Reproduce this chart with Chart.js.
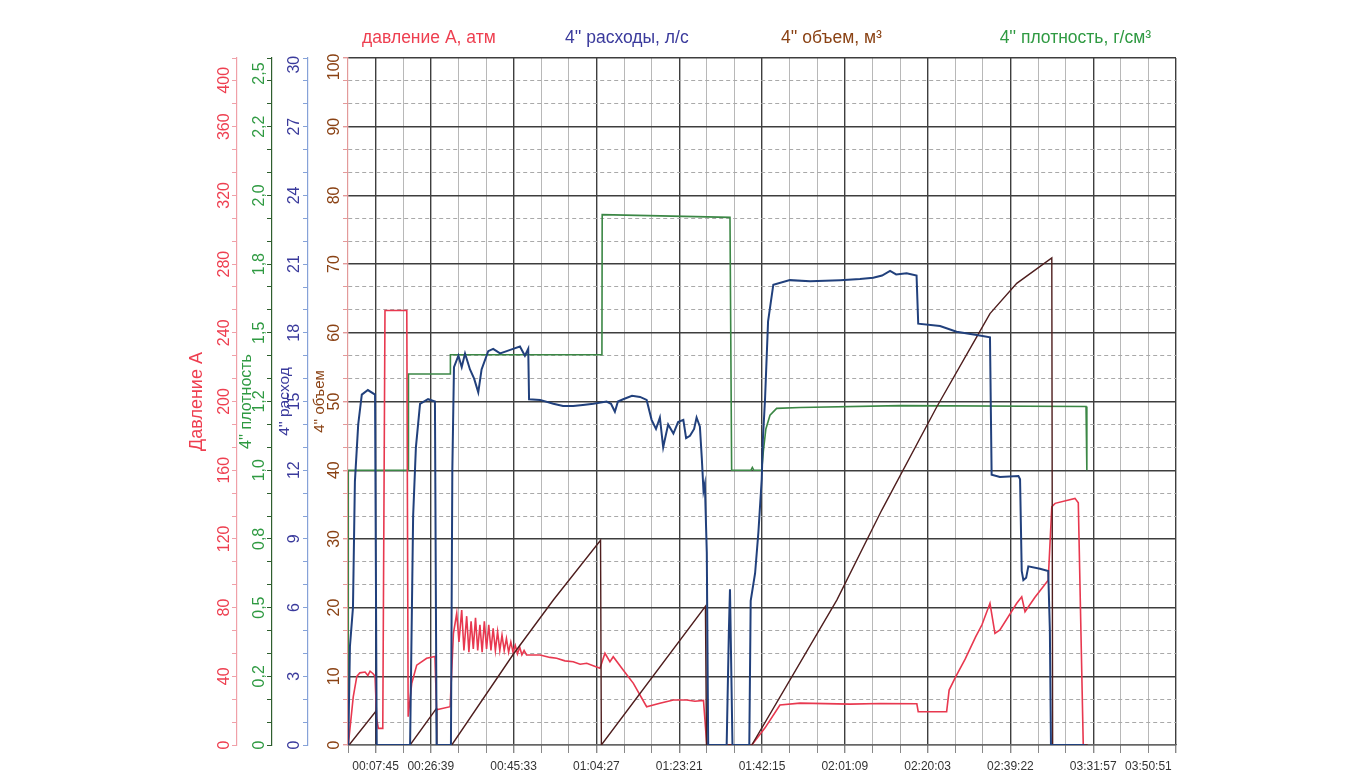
<!DOCTYPE html>
<html lang="ru">
<head>
  <meta charset="UTF-8" />
  <title>Давление, расход, объем, плотность</title>
  <script src="https://cdn.jsdelivr.net/npm/chart.js"></script>
  <style>
    body { margin: 0; background: #fff; }
    #wrap { width: 1348px; height: 782px; }
  </style>
</head>
<body>
  <div id="wrap"><canvas id="chart"></canvas></div>

  <script>
    // x in grid-interval units (0..30), labels sit on some of the gridlines
    const xTicksAt = [1, 3, 6, 9, 12, 15, 18, 21, 24, 27, 29];
    const xTickLabels = ['00:07:45', '00:26:39', '00:45:33', '01:04:27', '01:23:21', '01:42:15',
                         '02:01:09', '02:20:03', '02:39:22', '03:31:57', '03:50:51'];
    const xMajor = [1, 3, 6, 9, 12, 15, 18, 21, 24, 27, 30];

    const pressureTicks = ['0', '40', '80', '120', '160', '200', '240', '280', '320', '360', '400'];
    const densityTicks = ['0', '0,2', '0,5', '0,8', '1,0', '1,2', '1,5', '1,8', '2,0', '2,2', '2,5'];
    const flowTicks = ['0', '3', '6', '9', '12', '15', '18', '21', '24', '27', '30'];
    const volumeTicks = ['0', '10', '20', '30', '40', '50', '60', '70', '80', '90', '100'];

    const headerTexts = ['давление А, атм', "4'' расходы, л/с", "4'' объем, м³", "4'' плотность, г/см³"];

    // давление А, атм
    const pressureT = [0.01, 0.19, 0.32, 0.43, 0.62, 0.72, 0.8, 0.91, 0.98, 1.04,
      1.1, 1.26, 1.34, 2.13, 2.18, 2.31, 2.49, 2.85, 3.15, 3.21,
      3.7, 3.82, 3.94, 4.02, 4.12, 4.2, 4.3, 4.38, 4.46, 4.54,
      4.62, 4.7, 4.78, 4.86, 4.94, 5.02, 5.1, 5.18, 5.26, 5.34,
      5.42, 5.5, 5.58, 5.66, 5.74, 5.82, 5.9, 5.98, 6.06, 6.14,
      6.22, 6.3, 6.38, 6.47, 6.96, 7.32, 7.56, 7.86, 8.16, 8.41,
      8.65, 8.91, 9.13, 9.31, 9.49, 9.61, 9.97, 10.34, 10.82, 11.3,
      11.79, 12.27, 12.57, 12.88, 13.0, 14.63, 15.11, 15.65, 16.38, 18.19,
      19.28, 20.61, 20.66, 21.69, 21.78, 22.02, 22.36, 22.74, 22.97, 23.26,
      23.44, 23.62, 24.23, 24.41, 24.53, 24.89, 25.37, 25.5, 25.62, 26.34,
      26.46, 26.64, 26.76];
    const pressureA = [0, 28, 40, 42, 42.5, 40.5, 43, 41.5, 40, 15,
      9.7, 9.7, 253, 253, 16.5, 36, 46.5, 50.5, 51.5, 20.5,
      22.3, 65, 76.7, 60, 78.6, 55, 75, 54, 72, 56,
      74, 55, 70, 54, 72, 56, 70, 55, 68, 55,
      66, 55, 64, 55, 62, 54, 60, 54, 58, 53,
      57, 52.5, 55, 52.4, 52.4, 51, 50.5, 49, 48.5, 47,
      47.6, 46, 44.7, 53.4, 48.5, 51.4, 43.7, 35.9, 22.3, 24.3,
      26.2, 26.2, 25.5, 26, 0, 0, 10, 23.3, 24.4, 23.8,
      24.2, 24, 19.4, 19.4, 32, 39.8, 50, 63, 70, 82.5,
      65, 67, 82.5, 86.3, 77.6, 86, 96, 138.7, 140.7, 143.6,
      141, 0, 0];

    // 4'' расходы, л/с
    const flowT = [0.01, 0.07, 0.18, 0.25, 0.37, 0.5, 0.72, 0.98, 1.04, 2.25,
      2.36, 2.46, 2.61, 2.9, 3.15, 3.21, 3.73, 3.78, 3.84, 4.0,
      4.12, 4.24, 4.42, 4.57, 4.72, 4.84, 5.08, 5.26, 5.51, 5.75,
      5.98, 6.23, 6.41, 6.53, 6.56, 6.96, 7.44, 7.79, 8.16, 8.51,
      8.89, 9.37, 9.53, 9.67, 9.78, 9.97, 10.29, 10.58, 10.82, 11.0,
      11.16, 11.3, 11.42, 11.6, 11.79, 11.96, 12.15, 12.25, 12.39, 12.54,
      12.63, 12.75, 12.82, 12.88, 12.93, 13.0, 13.05, 13.72, 13.8, 13.84,
      13.93, 14.54, 14.59, 14.75, 14.87, 14.99, 15.03, 15.11, 15.22, 15.41,
      16.01, 16.74, 17.83, 18.55, 19.03, 19.35, 19.64, 19.86, 20.24, 20.6,
      20.66, 21.45, 22.05, 22.78, 23.26, 23.32, 23.62, 24.29, 24.35, 24.41,
      24.47, 24.57, 24.65, 25.07, 25.37, 25.43, 25.47, 26.7];
    const flowQ = [0, 4.3, 6, 11.5, 14, 15.3, 15.5, 15.3, 0, 0,
      10, 13, 14.9, 15.1, 15, 0, 0, 12, 16.5, 17,
      16.5, 17.1, 16.4, 16, 15.4, 16.4, 17.2, 17.3, 17.1, 17.2,
      17.3, 17.4, 17, 17.3, 15.1, 15.07, 14.9, 14.8, 14.8, 14.85,
      14.9, 15, 14.9, 14.55, 15, 15.1, 15.25, 15.2, 15.07, 14.2,
      13.8, 14.3, 13, 14, 13.6, 14.1, 14.2, 13.4, 13.5, 13.8,
      14.3, 13.9, 12.5, 11.1, 11.4, 8.4, 0, 0, 5, 6.8,
      0, 0, 6.3, 7.5, 9.3, 11.6, 13.3, 15.1, 18.5, 20.1,
      20.3, 20.25, 20.3, 20.35, 20.4, 20.5, 20.7, 20.55, 20.6, 20.5,
      18.4, 18.3, 18.05, 17.9, 17.8, 11.8, 11.7, 11.75, 11.6, 7.6,
      7.2, 7.3, 7.8, 7.7, 7.6, 5, 0, 0];

    // 4'' объем, м3
    const volumeT = [0.04, 1.01, 1.03, 2.25, 3.2, 3.22, 3.76, 5.97, 7.44, 9.15,
      9.18, 12.95, 12.99, 14.63, 17.71, 19.34, 21.33, 22.78, 23.26, 24.23,
      25.5, 25.53, 26.8];
    const volumeV = [0, 4.9, 0, 0, 5.3, 0, 0, 13.1, 21.1, 29.8,
      0, 20.2, 0, 0, 21.1, 34.2, 49.2, 59.4, 62.8, 67.2,
      70.9, 0, 0];

    // 4'' плотность, г/см3
    const densityT = [0, 0.01, 2.18, 2.19, 3.7, 3.71, 9.2, 9.21, 13.84, 13.9,
      14.6, 14.65, 14.7, 14.99, 15.05, 15.14, 15.29, 15.53, 16.38, 20,
      26.74, 26.77];
    const densityD = [0, 1.0, 1.0, 1.35, 1.35, 1.42, 1.42, 1.93, 1.92, 1.0,
      1.0, 1.01, 1.0, 1.0, 1.07, 1.15, 1.2, 1.225, 1.228, 1.235,
      1.232, 1.0];

    const RED = '#ee3f50', GREEN = '#2f9a42', BLUE = '#3a3a9c', BROWN = '#8a4214';
    const FONT = "'Liberation Sans', Arial, sans-serif";

    Chart.defaults.font.family = FONT;

    function pts(xs, ys) { return xs.map((x, i) => ({ x: x, y: ys[i] })); }

    const mctx = document.createElement('canvas').getContext('2d');
    function textW(t, size) { mctx.font = size + 'px ' + FONT; return mctx.measureText(t).width; }

    // left axis with 30 minor steps and a label every third one
    // topPad: spaces after the top label so it stays inside the plot height (it reads upward)
    function leftAxis(o) {
      const max = o.max;
      const topLabel = o.labels[10] + ' '.repeat(o.topPad);
      const natW = Math.max(...o.labels.map(l => textW(l, 16)));
      const padW = Math.max(natW, textW(topLabel, 16));
      return {
        type: 'linear', position: 'left', min: 0, max: max, weight: o.weight,
        afterBuildTicks: s => { s.ticks = Array.from({ length: 31 }, (_, i) => ({ value: max * i / 30 })); },
        afterFit: s => { s.width = o.width; },
        ticks: {
          autoSkip: false, minRotation: 90, maxRotation: 90, crossAlign: 'center',
          padding: o.pad - (padW - natW) / 2,
          color: o.color, font: { size: 16 },
          callback: (v, i) => {
            if (i % 3 !== 0) return '';
            return i === 30 ? topLabel : o.labels[i / 3];
          }
        },
        grid: o.onArea ? {
          drawOnChartArea: true, tickLength: 5, tickColor: o.lineColor,
          color: c => (c.index % 3 === 0 ? '#3e3e3e' : '#a9a9a9'),
          lineWidth: c => (c.index % 3 === 0 ? 1.4 : 1)
        } : { drawOnChartArea: false, tickLength: 5, tickColor: o.lineColor },
        border: {
          color: o.lineColor, width: 1.2,
          dash: c => (c.index !== undefined && c.index % 3 !== 0 ? [4, 3] : [])
        },
        title: { display: true, text: o.title, color: o.color, font: { size: o.titleSize }, padding: { top: o.titlePad, bottom: 0 } }
      };
    }

    const headerPlugin = {
      id: 'header',
      afterDraw(chart) {
        const { ctx, chartArea: a } = chart;
        const pos = [0.017, 0.262, 0.523, 0.787];
        const cols = [RED, BLUE, BROWN, GREEN];
        ctx.save();
        ctx.font = '17.5px ' + FONT;
        ctx.textBaseline = 'middle';
        headerTexts.forEach((t, i) => {
          ctx.fillStyle = cols[i];
          ctx.fillText(t, a.left + pos[i] * (a.right - a.left), a.top - 20);
        });
        ctx.restore();
      }
    };

    new Chart(document.getElementById('chart'), {
      type: 'line',
      data: {
        datasets: [
          { label: "4'' расходы", data: pts(flowT, flowQ), yAxisID: 'yQ', borderColor: '#21407c', borderWidth: 2 },
          { label: "4'' объем", data: pts(volumeT, volumeV), yAxisID: 'yV', borderColor: '#4e1d1d', borderWidth: 1.4 },
          { label: 'давление А', data: pts(pressureT, pressureA), yAxisID: 'yP', borderColor: '#e8384f', borderWidth: 1.6 },
          { label: "4'' плотность", data: pts(densityT, densityD), yAxisID: 'yD', borderColor: '#3b8745', borderWidth: 1.6 }
        ]
      },
      options: {
        responsive: true,
        maintainAspectRatio: false,
        animation: false,
        elements: { point: { radius: 0 }, line: { tension: 0 } },
        layout: { padding: { left: 186, right: 172, top: 58, bottom: 0 } },
        plugins: { legend: { display: false }, tooltip: { enabled: false } },
        scales: {
          x: {
            type: 'linear', min: 0, max: 30,
            afterBuildTicks: s => { s.ticks = Array.from({ length: 31 }, (_, i) => ({ value: i })); },
            afterFit: s => { s.height = 37; },
            ticks: {
              autoSkip: false, maxRotation: 0, padding: 6, color: '#333', font: { size: 12 },
              callback: (v, i) => { const k = xTicksAt.indexOf(i); return k >= 0 ? xTickLabels[k] : ''; }
            },
            grid: {
              tickLength: 8, tickColor: '#888',
              color: c => (c.index === 0 ? 'rgba(0,0,0,0)' : xMajor.includes(c.index) ? '#3e3e3e' : '#b8b8b8'),
              lineWidth: c => (xMajor.includes(c.index) ? 1.4 : 1)
            },
            border: { color: '#666', width: 1.2 }
          },
          yP: leftAxis({ max: 400, labels: pressureTicks, title: 'Давление А', color: RED, lineColor: '#f0a0a8',
                         weight: 4, width: 51, pad: -6, topPad: 10, titleSize: 18, titlePad: 0, onArea: false }),
          yD: leftAxis({ max: 2.5, labels: densityTicks, title: "4'' плотность", color: GREEN, lineColor: '#2e5e2e',
                         weight: 3, width: 35, pad: -4, topPad: 7, titleSize: 16, titlePad: 0, onArea: false }),
          yQ: leftAxis({ max: 30, labels: flowTicks, title: "4'' расход", color: BLUE, lineColor: '#86a2d8',
                         weight: 2, width: 36, pad: 0, topPad: 3, titleSize: 15.5, titlePad: 3, onArea: false }),
          yV: leftAxis({ max: 100, labels: volumeTicks, title: "4'' объем", color: BROWN, lineColor: '#e39a9a',
                         weight: 1, width: 40, pad: -5, topPad: 4, titleSize: 15, titlePad: 3, onArea: true })
        }
      },
      plugins: [headerPlugin]
    });
  </script>
</body>
</html>
